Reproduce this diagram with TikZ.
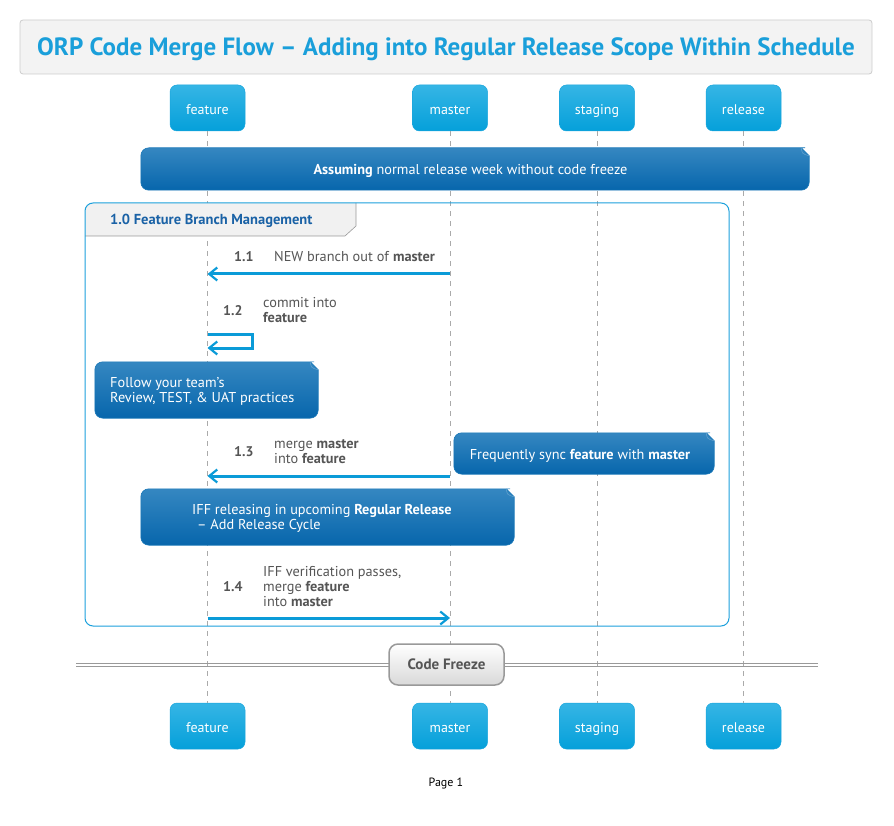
\documentclass[tikz,border=0pt]{standalone}
\usepackage{fontspec}
\setmainfont{PT Sans}
\usetikzlibrary{arrows.meta,calc}
\definecolor{titleblue}{HTML}{1A9FDA}
\definecolor{titlefill}{HTML}{F3F3F3}
\definecolor{titleborder}{HTML}{CCCCCC}
\definecolor{parttop}{HTML}{35B5E5}
\definecolor{partbot}{HTML}{05A0DA}
\definecolor{partborder}{HTML}{1AA6DD}
\definecolor{notetop}{HTML}{3587C1}
\definecolor{notebot}{HTML}{0766AC}
\definecolor{noteborder}{HTML}{1A78B8}
\definecolor{groupblue}{HTML}{1BA0DC}
\definecolor{tabfill}{HTML}{F1F1F1}
\definecolor{headblue}{HTML}{1A62A6}
\definecolor{arrowblue}{HTML}{0A9BD8}
\definecolor{labelgray}{HTML}{555555}
\definecolor{lifegray}{HTML}{AAAAAA}
\definecolor{divgray}{HTML}{999999}
\newcommand{\drawnote}[1]{%
  \shade[top color=notetop,bottom color=notebot,draw=noteborder,line width=0.6pt]
    (#1.west) [rounded corners=8pt] -- (#1.north west) -- ($(#1.north east)+(-12,0)$)
    [sharp corners] -- ($(#1.north east)+(-8,0)$) -- ($(#1.north east)+(0,8)$) -- ($(#1.north east)+(0,12)$)
    [rounded corners=8pt] -- (#1.south east) -- (#1.south west) -- cycle;
  \draw[noteborder!70!white,line width=0.6pt] ($(#1.north east)+(-8,0)$) .. controls ($(#1.north east)+(-7,6)$) .. ($(#1.north east)+(0,8)$);
}
\begin{document}
\begin{tikzpicture}[x=1pt,y=-1pt,
  part/.style={rounded corners=7pt,top color=parttop,bottom color=partbot,draw=partborder,line width=0.5pt,
    minimum width=75pt,minimum height=46pt,text=white,font=\fontsize{14}{16}\selectfont,text height=12.5pt,text depth=0pt},
  notetext/.style={text=white,font=\fontsize{14.3}{15}\selectfont,inner sep=0pt},
  lifeline/.style={draw=lifegray,dash pattern=on 5pt off 5pt,line width=0.8pt},
  msg/.style={draw=arrowblue,line width=3pt,-{Straight Barb[length=8pt,width=13pt,line width=2.2pt]}},
  num/.style={text=labelgray,font=\bfseries\fontsize{14}{15}\selectfont,anchor=west,inner sep=0pt},
  lbl/.style={text=labelgray,font=\fontsize{14.3}{15}\selectfont,anchor=west,align=left,inner sep=0pt}]
\useasboundingbox (0,0) rectangle (894,826);
% title
\node[rounded corners=3pt,fill=titlefill,draw=titleborder,line width=0.8pt,minimum width=852pt,minimum height=54pt] (title) at (446,47) {};
\node[anchor=base,inner sep=0pt,text=titleblue,font=\bfseries\fontsize{25}{28}\selectfont] (titletext) at (446,55.5) {ORP Code Merge Flow – Adding into Regular Release Scope Within Schedule};
% participants
\node[part] (fT) at (207.5,108) {feature};
\node[part] (mT) at (450,108) {master};
\node[part] (sT) at (597,108) {staging};
\node[part] (rT) at (743.5,108) {release};
\node[part] (fB) at (207.5,726) {feature};
\node[part] (mB) at (450,726) {master};
\node[part] (sB) at (597,726) {staging};
\node[part] (rB) at (743.5,726) {release};
\foreach \a/\b in {fT/fB,mT/mB,sT/sB,rT/rB}{\draw[lifeline] (\a.south) -- (\b.north);}
% note assuming
\node[minimum width=668pt,minimum height=42pt,inner sep=0pt] (n0) at (475,169) {};
\drawnote{n0}
\node[notetext] (n0t) at (470.5,171) {\textbf{Assuming} normal release week without code freeze};
% group
\fill[tabfill] (85,220) [rounded corners=8pt] -- (85,203) -- (350,203) [sharp corners] -- (356,203) -- (356,226) -- (345,236) -- (85,236) -- cycle;
\draw[divgray,line width=0.6pt] (356,203) -- (356,226) -- (345,236) -- (85,236);
\draw[groupblue,line width=1pt,rounded corners=8pt] (85,203) rectangle (729,626);
\node[text=headblue,font=\bfseries\fontsize{14.5}{15}\selectfont,anchor=west,inner sep=0pt] (ghead) at (110,221) {1.0 Feature Branch Management};
% 1.1
\draw[msg] (mT |- 0,274) -- (fT |- 0,274);
\node[num] (l11n) at (234,257) {1.1};
\node[lbl] (l11) at (274,257) {NEW branch out of \textbf{master}};
% 1.2
\draw[msg] (fT |- 0,334) -- ++(45,0) -- ++(0,14) -- (fT |- 0,348);
\node[num] (l12n) at (223,311) {1.2};
\node[lbl] (l12) at (263,310.5) {commit into\\\textbf{feature}};
% note follow
\node[minimum width=223pt,minimum height=56pt,inner sep=0pt] (n1) at (206.5,390) {};
\drawnote{n1}
\node[notetext,anchor=west,align=left] (n1t) at (110,391.5) {Follow your team's\\Review, TEST, \& UAT practices};
% 1.3
\draw[msg] (mT |- 0,476) -- (fT |- 0,476);
\node[num] (l13n) at (234,452) {1.3};
\node[lbl] (l13) at (274,451.5) {merge \textbf{master}\\into \textbf{feature}};
% note sync
\node[minimum width=260pt,minimum height=41pt,inner sep=0pt] (n2) at (584,453.5) {};
\drawnote{n2}
\node[notetext] (n2t) at (580,455.5) {Frequently sync \textbf{feature} with \textbf{master}};
% note IFF
\node[minimum width=373pt,minimum height=56pt,inner sep=0pt] (n3) at (327.5,517) {};
\drawnote{n3}
\node[notetext,anchor=west,align=left] (n3t) at (192,518.5) {IFF releasing in upcoming \textbf{Regular Release}\\\hspace*{5pt}– Add Release Cycle};
% 1.4
\draw[msg] (fT |- 0,618) -- (mT |- 0,618);
\node[num] (l14n) at (223,587) {1.4};
\node[lbl] (l14) at (263,587) {IFF verification passes,\\merge \textbf{feature}\\into \textbf{master}};
% divider
\draw[divgray,line width=1pt] (76,663) -- (818,663);
\draw[divgray,line width=1pt] (76,666.5) -- (818,666.5);
\node[rounded corners=9pt,top color=white,bottom color=black!15,draw=divgray,line width=1.5pt,
  minimum width=115pt,minimum height=41pt,text=labelgray,font=\bfseries\fontsize{15}{16}\selectfont] (cf) at (446.5,664.5) {Code Freeze};
% footer
\node[font=\fontsize{12}{13}\selectfont,inner sep=0pt] (page) at (446,783) {Page 1};
\end{tikzpicture}
\end{document}
